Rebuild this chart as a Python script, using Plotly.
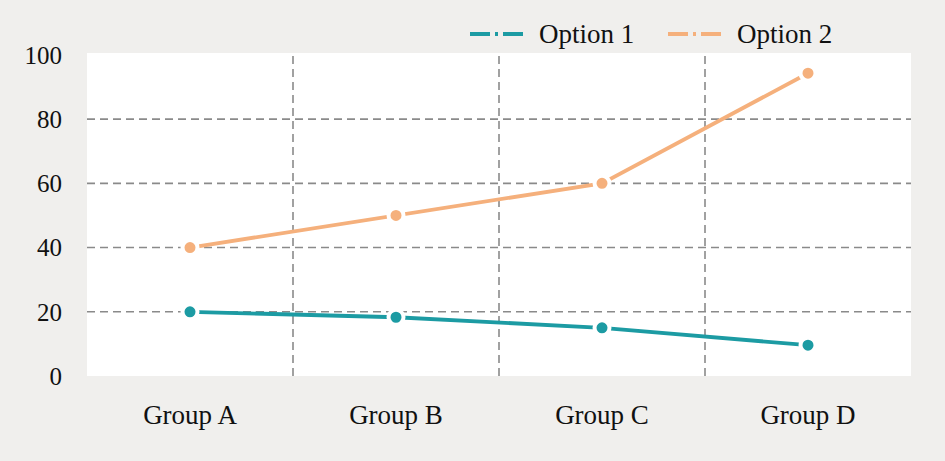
import plotly.graph_objects as go

categories = ["Group A", "Group B", "Group C", "Group D"]
option1 = [20, 18.3, 15, 9.6]
option2 = [40, 50, 60, 94.3]
series_names = ["Option 1", "Option 2"]
y_ticks = [0, 20, 40, 60, 80, 100]

teal = "#1c9ba3"
peach = "#f5b07c"
bg = "#f0efed"
grid = "#8a8a8a"
font_family = "Liberation Serif, Times New Roman, serif"

W, H = 945, 461
ML, MR, MT, MB = 87, 34, 53, 85
PW, PH = W - ML - MR, H - MT - MB


def px_x(p):
    return (p - ML) / PW


def px_y(p):
    return (H - MB - p) / PH


fig = go.Figure()
idx = list(range(len(categories)))
colors = [teal, peach]
for vals, name, col in [(option1, series_names[0], teal), (option2, series_names[1], peach)]:
    fig.add_trace(go.Scatter(
        x=idx, y=vals, mode="lines+markers", name=name, showlegend=False,
        line=dict(color=col, width=3.8),
        marker=dict(size=15, color=col, line=dict(color="white", width=4)),
    ))

shapes = []
for v in [0.5, 1.5, 2.5]:
    shapes.append(dict(type="line", xref="x", yref="paper", x0=v, x1=v, y0=0, y1=1,
                       line=dict(color=grid, width=1.6, dash="8px,5px"), layer="below"))
for v in y_ticks[1:-1]:
    shapes.append(dict(type="line", xref="paper", yref="y", x0=0, x1=1, y0=v, y1=v,
                       line=dict(color=grid, width=1.6, dash="8px,5px"), layer="below"))

# manual legend (dash-dot symbols)
annotations = []
legend_items = [(470, 523, 537), (668, 721, 735)]
for (s0, s1, tx), name, col in zip(legend_items, series_names, colors):
    shapes.append(dict(type="line", xref="paper", yref="paper",
                       x0=px_x(s0), x1=px_x(s1), y0=px_y(34), y1=px_y(34),
                       line=dict(color=col, width=4, dash="20px,5px,3px,5px")))
    annotations.append(dict(xref="paper", yref="paper", x=px_x(tx), y=px_y(34),
                            xanchor="left", yanchor="middle", showarrow=False,
                            text=name, font=dict(size=27, color="#111111")))

fig.update_layout(
    width=W, height=H,
    margin=dict(l=ML, r=MR, t=MT, b=MB),
    paper_bgcolor=bg, plot_bgcolor="white",
    font=dict(family=font_family, size=27, color="#111111"),
    shapes=shapes, annotations=annotations,
    showlegend=False,
    xaxis=dict(range=[-0.5, 3.5], tickmode="array", tickvals=idx, ticktext=categories,
               showgrid=False, zeroline=False, showline=False, ticks="",
               ticklabelstandoff=20, fixedrange=True),
    yaxis=dict(range=[0, 100.6], tickmode="array", tickvals=y_ticks,
               showgrid=False, zeroline=False, showline=False, ticks="",
               ticklabelstandoff=24, fixedrange=True, tickfont=dict(size=25)),
)

fig.write_html("out.html", config={"displayModeBar": False},
               post_script="document.body.style.margin='0';document.body.style.padding='0';document.body.style.overflow='hidden';")
